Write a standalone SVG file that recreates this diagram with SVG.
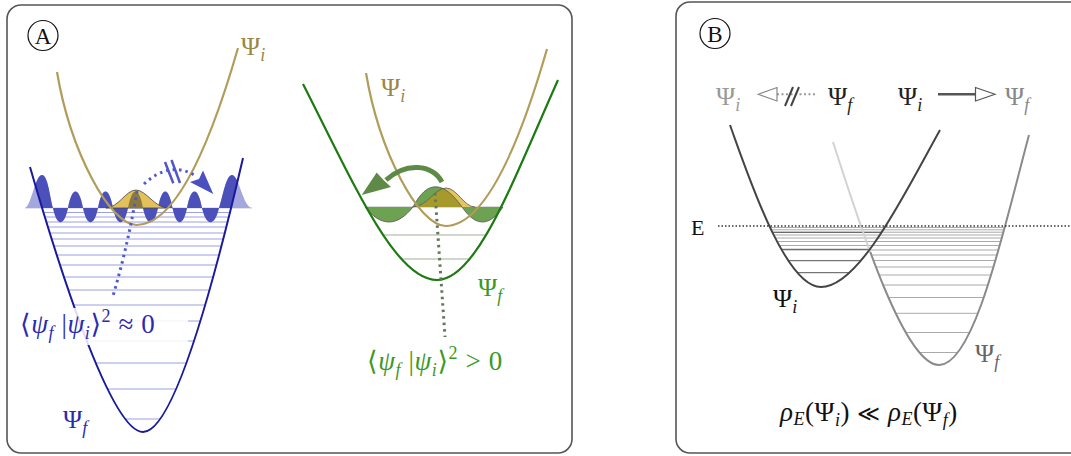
<svg xmlns="http://www.w3.org/2000/svg" width="1071" height="456" viewBox="0 0 1071 456">
<style>
.panel{fill:#fff;stroke:#555;stroke-width:1.6}
.t{font-family:"Liberation Serif","DejaVu Serif",serif}
.it{font-style:italic}
.lvB{stroke:#9aa0e0;stroke-width:1}
.lvG{stroke:#a3b09a;stroke-width:1.2}
.lvI{stroke:#555;stroke-width:1}
.lvF{stroke:#aaa;stroke-width:1}
.dot{fill:none;stroke-width:3;stroke-dasharray:2.5 4}
</style>
<defs>
<clipPath id="wellBlue"><path d="M30,167 C56,257 110,432 143,432 C176,432 219.8,258 243,158 Z"/></clipPath>
<clipPath id="wellGreen"><path d="M303,84 C354,184 395,280 437,280 C477,280 513.3,180 558,80 Z"/></clipPath>
<clipPath id="wellI"><path d="M730,125 C748,175 785,287 821,287 C860,287 906.4,190 940,130 Z"/></clipPath>
<clipPath id="wellF"><path d="M833,142 C861.8,232 905,365 939,365 C975,365 1004.7,225 1029,135 Z"/></clipPath>
<clipPath id="wellUnion"><path d="M833,142 C861.8,232 905,365 939,365 C975,365 1004.7,225 1029,135 Z"/><path d="M730,125 C748,175 785,287 821,287 C860,287 906.4,190 940,130 Z"/></clipPath>
<clipPath id="yellowA"><path d="M106,208 C118,208 126,190 136,190 C146,190 155,208 168,208 Z"/></clipPath>
<clipPath id="greenCenter"><path d="M413,207 C427,180 443,180 462,207 Z"/></clipPath>
<clipPath id="lightTop"><rect x="800" y="100" width="75" height="152"/></clipPath>
<clipPath id="darkRest"><path d="M800,252 L875,252 L875,100 L1071,100 L1071,456 L800,456 Z"/></clipPath>
</defs>

<g id="panelA">
<rect class="panel" x="7" y="5" width="565" height="448" rx="14"/>
<g id="labelA">
<circle cx="43" cy="35.5" r="15" fill="none" stroke="#111" stroke-width="1.2"/>
<text class="t" font-family="Liberation Serif, serif" x="43" y="43.5" font-size="23" text-anchor="middle" fill="#111">A</text>
</g>

<g id="blueWell">
<g clip-path="url(#wellBlue)">
<g class="lvB">
<line x1="20" x2="260" y1="419" y2="419"/><line x1="20" x2="260" y1="389" y2="389"/>
<line x1="20" x2="260" y1="363" y2="363"/><line x1="20" x2="260" y1="341" y2="341"/>
<line x1="20" x2="260" y1="321" y2="321"/><line x1="20" x2="260" y1="305" y2="305"/>
<line x1="20" x2="260" y1="290" y2="290"/><line x1="20" x2="260" y1="277" y2="277"/>
<line x1="20" x2="260" y1="265" y2="265"/><line x1="20" x2="260" y1="255" y2="255"/>
<line x1="20" x2="260" y1="246" y2="246"/><line x1="20" x2="260" y1="239" y2="239"/>
<line x1="20" x2="260" y1="233" y2="233"/><line x1="20" x2="260" y1="227" y2="227"/>
<line x1="20" x2="260" y1="222" y2="222"/><line x1="20" x2="260" y1="217" y2="217"/>
<line x1="20" x2="260" y1="212.5" y2="212.5"/>
</g>
</g>
<line x1="25" x2="252" y1="208" y2="208" stroke="#c8c8d4" stroke-width="1.2"/>
<path id="waveA" d="M25,208 C31,207 35,175 42,175 C48,175 50,198 53,208 C57,227 64,227 68,208 C72,186 79,186 83,208 C87,227 94,227 98,208 C102,186 109,186 113,208 C117,227 124,227 128,208 C132,186 139,186 143,208 C147,227 154,227 158,208 C162,186 168.5,186 172.5,208 C176.5,227 183,227 187,208 C191,186 198,186 202,208 C206.5,227 214.5,227 219,208 C223,196 226,175 232,175 C239,175 243,207 252,208 Z" fill="#a4a7dd"/>
<path clip-path="url(#wellBlue)" d="M25,208 C31,207 35,175 42,175 C48,175 50,198 53,208 C57,227 64,227 68,208 C72,186 79,186 83,208 C87,227 94,227 98,208 C102,186 109,186 113,208 C117,227 124,227 128,208 C132,186 139,186 143,208 C147,227 154,227 158,208 C162,186 168.5,186 172.5,208 C176.5,227 183,227 187,208 C191,186 198,186 202,208 C206.5,227 214.5,227 219,208 C223,196 226,175 232,175 C239,175 243,207 252,208 Z" fill="#4b50bb"/>
<path d="M106,208 C118,208 126,190 136,190 C146,190 155,208 168,208 Z" fill="#e2c15c" stroke="#444" stroke-width="0.8"/>
<path clip-path="url(#yellowA)" d="M128,208 C132,186 139,186 143,208 Z" fill="#8c7a3c"/>
<path d="M30,167 C56,257 110,432 143,432 C176,432 219.8,258 243,158" fill="none" stroke="#1a1a9c" stroke-width="2"/>
<path d="M57,72 C70.6,152 110,225 136.5,225 Q187,225 238,48" fill="none" stroke="#b29c5a" stroke-width="2.2"/>
<path class="dot" d="M137,191 Q128,245 113,296" stroke="#5058d0"/>
<path class="dot" d="M144,184 Q170,160 196,176" stroke="#5058d0"/>
<line x1="165" y1="162" x2="173.3" y2="183.3" stroke="#5058c8" stroke-width="2.5"/>
<line x1="171.5" y1="160" x2="180" y2="183" stroke="#5058c8" stroke-width="2.5"/>
<polygon points="213.3,194 190,182 199,179 203,170.5" fill="#4a50c0"/>
<rect x="18" y="308" width="170" height="37" fill="#fff" opacity="0.85"/>
<text class="t" font-family="Liberation Serif, serif" x="20" y="333" font-size="27" letter-spacing="0.6" fill="#2b2bb0">⟨<tspan class="it">ψ</tspan><tspan class="it" font-size="18" dy="6">f</tspan><tspan dy="-6"> |</tspan><tspan class="it">ψ</tspan><tspan class="it" font-size="18" dy="6">i</tspan><tspan dy="-6">⟩</tspan><tspan font-size="18" dy="-11">2</tspan><tspan dy="11"> ≈ 0</tspan></text>
<text class="t" font-family="Liberation Serif, serif" x="63" y="428" font-size="26" fill="#2b2bb0">Ψ<tspan class="it" font-size="18" dy="6">f</tspan></text>
<text class="t" font-family="Liberation Serif, serif" x="241" y="55" font-size="26" fill="#9c8646">Ψ<tspan class="it" font-size="18" dy="6">i</tspan></text>
</g>

<g id="greenWell">
<g clip-path="url(#wellGreen)">
<line class="lvG" x1="300" x2="560" y1="235" y2="235"/>
<line class="lvG" x1="300" x2="560" y1="259" y2="259"/>
</g>
<line x1="365" x2="503" y1="207" y2="207" stroke="#d0d0d0" stroke-width="1.5"/>
<path d="M365,207 C381,227 397,227 413,207 C427,180 443,180 462,207 C475.7,227 489.3,227 503,207 Z" fill="#6da252"/>
<path d="M412,207 C427,207 435,188 446,188 C457,188 464,207 475,207 Z" fill="#e2c462"/>
<path clip-path="url(#greenCenter)" d="M412,207 C427,207 435,188 446,188 C457,188 464,207 475,207 Z" fill="#a69a2c"/>
<path d="M365,207 C381,227 397,227 413,207 C427,180 443,180 462,207 C475.7,227 489.3,227 503,207" fill="none" stroke="#555" stroke-width="0.8"/>
<path d="M412,207 C427,207 435,188 446,188 C457,188 464,207 475,207" fill="none" stroke="#555" stroke-width="0.8"/>
<path d="M303,84 C354,184 395,280 437,280 C477,280 513.3,180 558,80" fill="none" stroke="#1e7a12" stroke-width="2.2"/>
<path d="M366,73 C379.6,153 419,226 445.5,226 Q496,226 547,49" fill="none" stroke="#b29c5a" stroke-width="2.2"/>
<path class="dot" d="M435,193 L445,337" stroke="#5f7a5a"/>
<path d="M442,182 C432,164 406,162 386,180" fill="none" stroke="#5e8a47" stroke-width="5"/>
<polygon points="361.7,195 376.7,172.5 383.5,180 391,187" fill="#5e8a47"/>
<text class="t" font-family="Liberation Serif, serif" x="367" y="370" font-size="27" letter-spacing="0.6" fill="#3a9a1e">⟨<tspan class="it">ψ</tspan><tspan class="it" font-size="18" dy="6">f</tspan><tspan dy="-6"> |</tspan><tspan class="it">ψ</tspan><tspan class="it" font-size="18" dy="6">i</tspan><tspan dy="-6">⟩</tspan><tspan font-size="18" dy="-11">2</tspan><tspan dy="11"> &gt; 0</tspan></text>
<text class="t" font-family="Liberation Serif, serif" x="478" y="296" font-size="26" fill="#3a9a1e">Ψ<tspan class="it" font-size="18" dy="6">f</tspan></text>
<text class="t" font-family="Liberation Serif, serif" x="381" y="96" font-size="26" fill="#9c8646">Ψ<tspan class="it" font-size="18" dy="6">i</tspan></text>
</g>
</g>

<g id="panelB">
<rect class="panel" x="676" y="2" width="420" height="451" rx="14"/>
<g id="labelB">
<circle cx="715" cy="33.5" r="15" fill="none" stroke="#111" stroke-width="1.2"/>
<text class="t" font-family="Liberation Serif, serif" x="715" y="41.5" font-size="23" text-anchor="middle" fill="#111">B</text>
</g>
<g id="transitions">
<text class="t" font-family="Liberation Serif, serif" x="716" y="105" font-size="26" fill="#999">Ψ<tspan class="it" font-size="18" dy="6">i</tspan></text>
<line x1="777" y1="94.3" x2="817" y2="94.3" stroke="#999" stroke-width="2" stroke-dasharray="2 2.5"/>
<polygon points="758.3,94.3 777,87.5 777,101" fill="#fff" stroke="#888" stroke-width="1.2"/>
<line x1="785" y1="106" x2="793" y2="87" stroke="#444" stroke-width="2"/>
<line x1="791" y1="106" x2="799" y2="87" stroke="#444" stroke-width="2"/>
<text class="t" font-family="Liberation Serif, serif" x="828" y="105" font-size="26" fill="#222">Ψ<tspan class="it" font-size="18" dy="6">f</tspan></text>
<text class="t" font-family="Liberation Serif, serif" x="898" y="105" font-size="26" fill="#222">Ψ<tspan class="it" font-size="18" dy="6">i</tspan></text>
<line x1="938" y1="94.3" x2="976" y2="94.3" stroke="#555" stroke-width="2.5"/>
<polygon points="995,94.3 975.5,87.5 975.5,101" fill="#fff" stroke="#555" stroke-width="1.2"/>
<text class="t" font-family="Liberation Serif, serif" x="1005" y="105" font-size="26" fill="#888">Ψ<tspan class="it" font-size="18" dy="6">f</tspan></text>
</g>
<g id="levelsF">
<g clip-path="url(#wellUnion)" class="lvF">
<line x1="720" x2="1040" y1="227.5" y2="227.5"/><line x1="720" x2="1040" y1="229.8" y2="229.8"/>
<line x1="720" x2="1040" y1="232.2" y2="232.2"/><line x1="720" x2="1040" y1="235" y2="235"/>
<line x1="720" x2="1040" y1="238" y2="238"/><line x1="720" x2="1040" y1="241.5" y2="241.5"/>
<line x1="720" x2="1040" y1="245.5" y2="245.5"/><line x1="720" x2="1040" y1="250" y2="250"/>
</g>
<g clip-path="url(#wellF)" class="lvF">
<line x1="840" x2="1040" y1="255" y2="255"/><line x1="840" x2="1040" y1="260.5" y2="260.5"/>
<line x1="840" x2="1040" y1="267" y2="267"/><line x1="840" x2="1040" y1="275" y2="275"/>
<line x1="840" x2="1040" y1="285" y2="285"/><line x1="840" x2="1040" y1="297.5" y2="297.5"/>
<line x1="840" x2="1040" y1="313.3" y2="313.3"/><line x1="840" x2="1040" y1="332.5" y2="332.5"/>
<line x1="840" x2="1040" y1="352.5" y2="352.5"/>
</g>
</g>
<g id="levelsI" clip-path="url(#wellI)" class="lvI">
<line x1="720" x2="950" y1="232.3" y2="232.3"/><line x1="720" x2="950" y1="249.3" y2="249.3"/>
<line x1="720" x2="950" y1="260.7" y2="260.7"/><line x1="720" x2="950" y1="272.7" y2="272.7"/>
</g>
<g id="curveF">
<path clip-path="url(#lightTop)" d="M833,142 C861.8,232 905,365 939,365 C975,365 1004.7,225 1029,135" fill="none" stroke="#d2d2d2" stroke-width="2"/>
<path clip-path="url(#darkRest)" d="M833,142 C861.8,232 905,365 939,365 C975,365 1004.7,225 1029,135" fill="none" stroke="#8a8a8a" stroke-width="2"/>
</g>
<path id="curveI" d="M730,125 C748,175 785,287 821,287 C860,287 906.4,190 940,130" fill="none" stroke="#444" stroke-width="2"/>
<line x1="718" y1="226" x2="1071" y2="226" stroke="#333" stroke-width="1.5" stroke-dasharray="1.5 2"/>
<text class="t" font-family="Liberation Serif, serif" x="691" y="235" font-size="22" fill="#111">E</text>
<text class="t" font-family="Liberation Serif, serif" x="773" y="307" font-size="26" fill="#111">Ψ<tspan class="it" font-size="18" dy="6">i</tspan></text>
<text class="t" font-family="Liberation Serif, serif" x="975" y="362" font-size="26" fill="#666">Ψ<tspan class="it" font-size="18" dy="6">f</tspan></text>
<text class="t" font-family="Liberation Serif, serif" x="780" y="421" font-size="27" letter-spacing="0.5" fill="#111"><tspan class="it">ρ</tspan><tspan class="it" font-size="18" dy="4">E</tspan><tspan dy="-4">(Ψ</tspan><tspan class="it" font-size="18" dy="5">i</tspan><tspan dy="-5">) </tspan><tspan font-family="DejaVu Serif, serif" font-size="22">≪</tspan><tspan> </tspan><tspan class="it">ρ</tspan><tspan class="it" font-size="18" dy="4">E</tspan><tspan dy="-4">(Ψ</tspan><tspan class="it" font-size="18" dy="5">f</tspan><tspan dy="-5">)</tspan></text>
</g>
</svg>
